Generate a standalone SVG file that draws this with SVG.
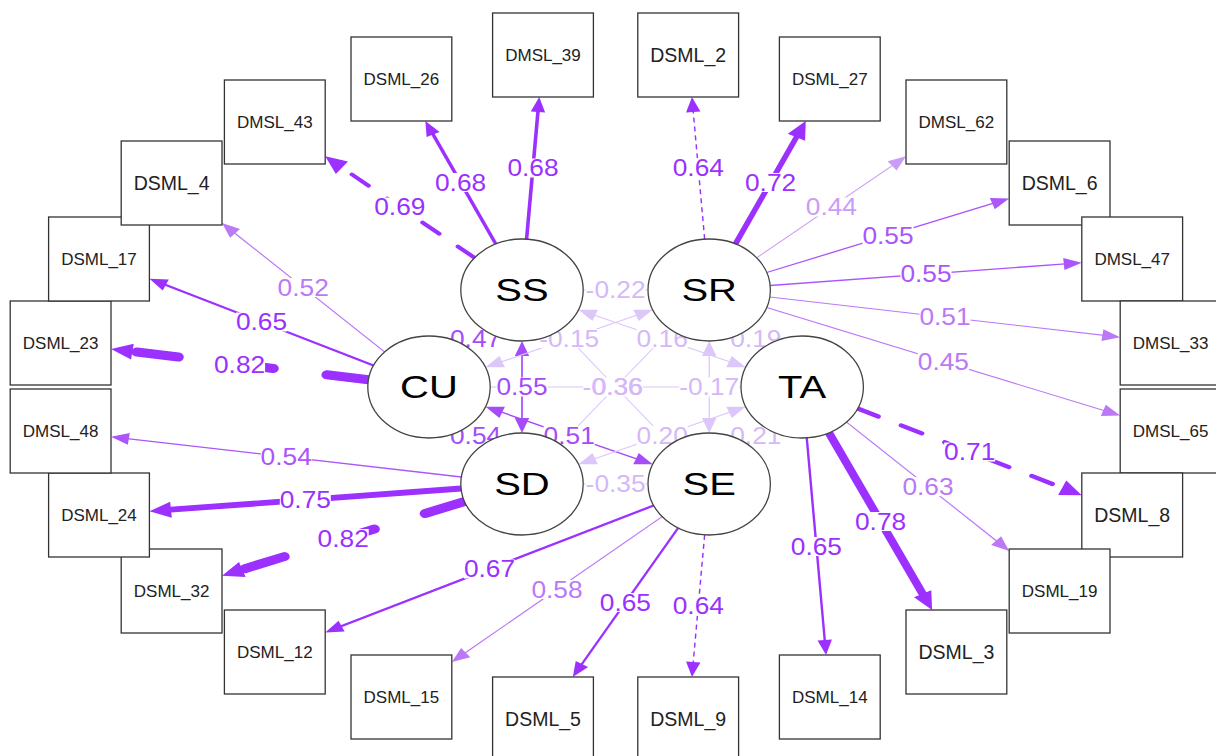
<svg xmlns="http://www.w3.org/2000/svg" width="1216" height="756" viewBox="0 0 1216 756">
  <style>
    .ln { fill: none; stroke-linecap: butt; }
    .k1 { stroke: #9B30FF; }
    .k2 { stroke: #AB55FA; }
    .k3 { stroke: #BB78F7; }
    .k4 { stroke: #CB9CF7; }
    .kc { stroke: #DCC6FA; stroke-width: 1; }
    .kd { stroke: #A54CF8; stroke-width: 1.4; }
    .dl { stroke-linecap: round; }
    .bg { fill: #ffffff; }
    .el { font-family: "Liberation Sans", Arial, sans-serif; font-size: 23.5px; text-anchor: middle;
          transform-box: fill-box; transform-origin: center; transform: scaleX(1.12); }
    .t1 { fill: #9B30FF; }
    .t2 { fill: #AB55FA; }
    .t3 { fill: #BB78F7; }
    .t4 { fill: #CB9CF7; }
    .tc { fill: #D5B8F8; }
    .td { fill: #A54CF8; }
    .box { fill: #ffffff; stroke: #333333; stroke-width: 1.3; }
    .lat { fill: #ffffff; stroke: #444444; stroke-width: 1.3; }
    .mt { font-family: "Liberation Sans", Arial, sans-serif; fill: #222222; text-anchor: middle; font-size: 17px; }
    .mt.big { font-size: 19.5px; }
    .lt { font-family: "Liberation Sans", Arial, sans-serif; fill: #000000; text-anchor: middle; font-size: 32px;
          transform-box: fill-box; transform-origin: center; transform: scaleX(1.25); }
  </style>
  <defs>
    <marker id="a1" markerUnits="userSpaceOnUse" orient="auto-start-reverse" refX="7" refY="0" markerWidth="1" markerHeight="1" overflow="visible"><path d="M0,-6 L15,0 L0,6 Z" fill="#9B30FF"/></marker>
    <marker id="ab" markerUnits="userSpaceOnUse" orient="auto-start-reverse" refX="6" refY="0" markerWidth="1" markerHeight="1" overflow="visible"><path d="M0,-8 L18,0 L0,8 Z" fill="#9B30FF"/></marker>
    <marker id="a2" markerUnits="userSpaceOnUse" orient="auto-start-reverse" refX="7" refY="0" markerWidth="1" markerHeight="1" overflow="visible"><path d="M0,-6 L15,0 L0,6 Z" fill="#AB55FA"/></marker>
    <marker id="a3" markerUnits="userSpaceOnUse" orient="auto-start-reverse" refX="7" refY="0" markerWidth="1" markerHeight="1" overflow="visible"><path d="M0,-6 L15,0 L0,6 Z" fill="#BB78F7"/></marker>
    <marker id="a4" markerUnits="userSpaceOnUse" orient="auto-start-reverse" refX="7" refY="0" markerWidth="1" markerHeight="1" overflow="visible"><path d="M0,-6 L15,0 L0,6 Z" fill="#CB9CF7"/></marker>
    <marker id="ac" markerUnits="userSpaceOnUse" orient="auto-start-reverse" refX="7" refY="0" markerWidth="1" markerHeight="1" overflow="visible"><path d="M0,-6 L15,0 L0,6 Z" fill="#DCC6FA"/></marker>
    <marker id="ad" markerUnits="userSpaceOnUse" orient="auto-start-reverse" refX="7" refY="0" markerWidth="1" markerHeight="1" overflow="visible"><path d="M0,-6 L15,0 L0,6 Z" fill="#A54CF8"/></marker>
  </defs>

  <rect x="0" y="0" width="1216" height="756" fill="#ffffff"/>

  <!-- edges are laid out on a square grid and stretched to the wide canvas -->
  <g id="connectors" transform="scale(1.2,1)">
    <g id="loadings">
      <path class="ln k1 dl" d="M395.5,257.8 L280.3,163.9" stroke-width="3.8" stroke-dasharray="18 20" marker-end="url(#ab)"/>
      <path class="ln k1" d="M413.1,243.9 L357.9,128.2" stroke-width="3" marker-end="url(#a1)"/>
      <path class="ln k1" d="M438.8,239.1 L448.8,105" stroke-width="3" marker-end="url(#a1)"/>
      <path class="ln k1" d="M587.2,239.1 L577.2,105" stroke-width="1.2" stroke-dasharray="5 4" marker-end="url(#a1)"/>
      <path class="ln k1" d="M612.9,243.9 L666.3,131.8" stroke-width="4.8" marker-end="url(#ab)"/>
      <path class="ln k4" d="M630.5,257.8 L748.8,161.4" stroke-width="1" marker-end="url(#a4)"/>
      <path class="ln k2" d="M638.9,272.5 L833.5,201.2" stroke-width="1.3" marker-end="url(#a2)"/>
      <path class="ln k2" d="M641.8,285.5 L893.5,263.4" stroke-width="1.3" marker-end="url(#a2)"/>
      <path class="ln k3" d="M641.5,297 L925.6,336.1" stroke-width="1.1" marker-end="url(#a3)"/>
      <path class="ln k3" d="M638.9,307.6 L926,412.8" stroke-width="1.1" marker-end="url(#a3)"/>
      <path class="ln k3" d="M320.5,351.9 L190.8,228.5" stroke-width="1.1" marker-end="url(#a3)"/>
      <path class="ln k1" d="M311.3,365.5 L131.8,282" stroke-width="2" marker-end="url(#a1)"/>
      <path class="ln k1 dl" d="M307,379.8 L104.4,350.7" stroke-width="9" stroke-dasharray="35 45" marker-end="url(#ab)"/>
      <path class="ln k2" d="M384.5,477 L100.4,437.9" stroke-width="1.3" marker-end="url(#a2)"/>
      <path class="ln k1" d="M384.2,488.5 L136.5,510.2" stroke-width="5.8" marker-end="url(#ab)"/>
      <path class="ln k1 dl" d="M387.1,501.5 L196.3,571.5" stroke-width="9" stroke-dasharray="35 45" marker-end="url(#ab)"/>
      <path class="ln k1" d="M544.7,505.5 L278.3,629.1" stroke-width="2.2" marker-end="url(#a1)"/>
      <path class="ln k3" d="M551.8,516.6 L382.7,657" stroke-width="1.1" marker-end="url(#a3)"/>
      <path class="ln k1" d="M565.1,527.9 L481.4,670.1" stroke-width="2" marker-end="url(#a1)"/>
      <path class="ln k1" d="M587.2,534.9 L577.2,669" stroke-width="1.2" stroke-dasharray="5 4" marker-end="url(#a1)"/>
      <path class="ln k1 dl" d="M714.7,408.5 L890.6,490.3" stroke-width="4.2" stroke-dasharray="19 21" marker-end="url(#ab)"/>
      <path class="ln k3" d="M705.5,422.1 L835.2,545.5" stroke-width="1.1" marker-end="url(#a3)"/>
      <path class="ln k1" d="M690.8,432.9 L771.5,599.2" stroke-width="7" marker-end="url(#ab)"/>
      <path class="ln k1" d="M672.3,437.9 L687.8,647" stroke-width="2" marker-end="url(#a1)"/>
    </g>
    <g id="covariances">
      <path class="ln kc" d="M494,290 L532,290" marker-start="url(#ac)" marker-end="url(#ac)"/>
      <path class="ln kd" d="M403.2,329.8 L389.3,347.2"/>
      <path class="ln kc" d="M489.5,312.7 L614,364.3" marker-start="url(#ac)" marker-end="url(#ac)"/>
      <path class="ln kd" d="M435,349 L435,425" marker-start="url(#ad)" marker-end="url(#ad)"/>
      <path class="ln kc" d="M467,329.7 L559,444.3"/>
      <path class="ln kc" d="M536.5,312.7 L412,364.3" marker-start="url(#ac)" marker-end="url(#ac)"/>
      <path class="ln kc" d="M622.8,329.8 L636.7,347.2"/>
      <path class="ln kc" d="M559,329.7 L467,444.3"/>
      <path class="ln kc" d="M591,349 L591,425" marker-start="url(#ac)" marker-end="url(#ac)"/>
      <path class="ln kc" d="M408.5,387 L617.5,387"/>
      <path class="ln kd" d="M389.3,426.8 L403.2,444.2"/>
      <path class="ln kd" d="M412,409.7 L536.5,461.3" marker-start="url(#ad)" marker-end="url(#ad)"/>
      <path class="ln kc" d="M614,409.7 L489.5,461.3" marker-start="url(#ac)" marker-end="url(#ac)"/>
      <path class="ln kc" d="M636.7,426.8 L622.8,444.2"/>
      <path class="ln kc" d="M494,484 L532,484" marker-start="url(#ac)" marker-end="url(#ac)"/>
    </g>
  </g>

  <!-- coefficient labels on white plates -->
  <g id="edge-labels">
    <rect class="bg" x="374.3" y="197.5" width="51" height="19"/><text class="el t1" x="399.8" y="215.4">0.69</text>
    <rect class="bg" x="435.1" y="173" width="51" height="19"/><text class="el t1" x="460.6" y="190.9">0.68</text>
    <rect class="bg" x="507.5" y="158.5" width="51" height="19"/><text class="el t1" x="533" y="176.4">0.68</text>
    <rect class="bg" x="672.8" y="158.5" width="51" height="19"/><text class="el t1" x="698.3" y="176.4">0.64</text>
    <rect class="bg" x="745.1" y="173" width="51" height="19"/><text class="el t1" x="770.6" y="190.9">0.72</text>
    <rect class="bg" x="805.9" y="197.5" width="51" height="19"/><text class="el t4" x="831.4" y="215.4">0.44</text>
    <rect class="bg" x="862.5" y="226" width="51" height="19"/><text class="el t2" x="888" y="243.9">0.55</text>
    <rect class="bg" x="900.5" y="264.5" width="51" height="19"/><text class="el t2" x="926" y="282.4">0.55</text>
    <rect class="bg" x="919.5" y="307.5" width="51" height="19"/><text class="el t3" x="945" y="325.4">0.51</text>
    <rect class="bg" x="917.9" y="352.1" width="51" height="19"/><text class="el t3" x="943.4" y="370">0.45</text>
    <rect class="bg" x="277.7" y="278" width="51" height="19"/><text class="el t3" x="303.2" y="295.9">0.52</text>
    <rect class="bg" x="236" y="312.5" width="51" height="19"/><text class="el t1" x="261.5" y="330.4">0.65</text>
    <rect class="bg" x="214.1" y="354.9" width="51" height="19"/><text class="el t1" x="239.6" y="372.8">0.82</text>
    <rect class="bg" x="260.7" y="447.5" width="51" height="19"/><text class="el t2" x="286.2" y="465.4">0.54</text>
    <rect class="bg" x="279.8" y="490.5" width="51" height="19"/><text class="el t1" x="305.3" y="508.4">0.75</text>
    <rect class="bg" x="317.7" y="529" width="51" height="19"/><text class="el t1" x="343.2" y="546.9">0.82</text>
    <rect class="bg" x="464" y="559.5" width="51" height="19"/><text class="el t1" x="489.5" y="577.4">0.67</text>
    <rect class="bg" x="531.5" y="579.9" width="51" height="19"/><text class="el t3" x="557" y="597.8">0.58</text>
    <rect class="bg" x="599.9" y="593" width="51" height="19"/><text class="el t1" x="625.4" y="610.9">0.65</text>
    <rect class="bg" x="672.8" y="596.5" width="51" height="19"/><text class="el t1" x="698.3" y="614.4">0.64</text>
    <rect class="bg" x="944.2" y="442.5" width="51" height="19"/><text class="el t1" x="969.7" y="460.4">0.71</text>
    <rect class="bg" x="902.5" y="477.1" width="51" height="19"/><text class="el t3" x="928" y="495">0.63</text>
    <rect class="bg" x="855.1" y="512" width="51" height="19"/><text class="el t1" x="880.6" y="529.9">0.78</text>
    <rect class="bg" x="790.9" y="537" width="51" height="19"/><text class="el t1" x="816.4" y="554.9">0.65</text>

    <rect class="bg" x="585.6" y="280.5" width="60" height="19"/><text class="el tc" x="615.6" y="298.4">-0.22</text>
    <rect class="bg" x="450.1" y="329" width="51" height="19"/><text class="el td" x="475.6" y="346.9">0.47</text>
    <rect class="bg" x="539.2" y="329" width="60" height="19"/><text class="el tc" x="569.2" y="346.9">-0.15</text>
    <rect class="bg" x="636.7" y="329" width="51" height="19"/><text class="el tc" x="662.2" y="346.9">0.16</text>
    <rect class="bg" x="730.3" y="329" width="51" height="19"/><text class="el tc" x="755.8" y="346.9">0.19</text>
    <rect class="bg" x="496.5" y="377.5" width="51" height="19"/><text class="el td" x="522" y="395.4">0.55</text>
    <rect class="bg" x="583" y="377.5" width="60" height="19"/>
    <text class="el tc" x="612.5" y="395.4">-0.36</text>
    <text class="el tc" x="617.5" y="395.4">0.36</text>
    <rect class="bg" x="679.2" y="377.5" width="60" height="19"/><text class="el tc" x="709.2" y="395.4">-0.17</text>
    <rect class="bg" x="450.1" y="426" width="51" height="19"/><text class="el td" x="475.6" y="443.9">0.54</text>
    <rect class="bg" x="543.7" y="426" width="51" height="19"/><text class="el td" x="569.2" y="443.9">0.51</text>
    <rect class="bg" x="636.7" y="426" width="51" height="19"/><text class="el tc" x="662.2" y="443.9">0.20</text>
    <rect class="bg" x="730.3" y="426" width="51" height="19"/><text class="el tc" x="755.8" y="443.9">0.21</text>
    <rect class="bg" x="585.6" y="474.5" width="60" height="19"/><text class="el tc" x="615.6" y="492.4">-0.35</text>
  </g>

  <!-- observed indicators, drawn clockwise from the top -->
  <g id="nodes">
    <g id="DSML_2"><rect class="box" x="637.8" y="13" width="100.8" height="84"/><text class="mt big" x="688.2" y="62">DSML_2</text></g>
    <g id="DSML_27"><rect class="box" x="779.4" y="37" width="100.8" height="84"/><text class="mt" x="829.8" y="85.1">DSML_27</text></g>
    <g id="DMSL_62"><rect class="box" x="906" y="80" width="100.8" height="84"/><text class="mt" x="956.4" y="128.1">DMSL_62</text></g>
    <g id="DSML_6"><rect class="box" x="1009.2" y="141" width="100.8" height="84"/><text class="mt big" x="1059.6" y="190">DSML_6</text></g>
    <g id="DMSL_47"><rect class="box" x="1081.8" y="217" width="100.8" height="84"/><text class="mt" x="1132.2" y="265.1">DMSL_47</text></g>
    <g id="DMSL_33"><rect class="box" x="1120.2" y="301" width="100.8" height="84"/><text class="mt" x="1170.6" y="349.1">DMSL_33</text></g>
    <g id="DMSL_65"><rect class="box" x="1120.2" y="389" width="100.8" height="84"/><text class="mt" x="1170.6" y="437.1">DMSL_65</text></g>
    <g id="DSML_8"><rect class="box" x="1081.8" y="473" width="100.8" height="84"/><text class="mt big" x="1132.2" y="522">DSML_8</text></g>
    <g id="DSML_19"><rect class="box" x="1009.2" y="549" width="100.8" height="84"/><text class="mt" x="1059.6" y="597.1">DSML_19</text></g>
    <g id="DSML_3"><rect class="box" x="906" y="610" width="100.8" height="84"/><text class="mt big" x="956.4" y="659">DSML_3</text></g>
    <g id="DSML_14"><rect class="box" x="779.4" y="655" width="100.8" height="84"/><text class="mt" x="829.8" y="703.1">DSML_14</text></g>
    <g id="DSML_9"><rect class="box" x="637.8" y="677" width="100.8" height="84"/><text class="mt big" x="688.2" y="726">DSML_9</text></g>
    <g id="DSML_5"><rect class="box" x="492.6" y="677" width="100.8" height="84"/><text class="mt big" x="543" y="726">DSML_5</text></g>
    <g id="DSML_15"><rect class="box" x="351" y="655" width="100.8" height="84"/><text class="mt" x="401.4" y="703.1">DSML_15</text></g>
    <g id="DSML_12"><rect class="box" x="224.4" y="610" width="100.8" height="84"/><text class="mt" x="274.8" y="658.1">DSML_12</text></g>
    <g id="DSML_32"><rect class="box" x="121.2" y="549" width="100.8" height="84"/><text class="mt" x="171.6" y="597.1">DSML_32</text></g>
    <g id="DSML_24"><rect class="box" x="48.6" y="473" width="100.8" height="84"/><text class="mt" x="99" y="521.1">DSML_24</text></g>
    <g id="DMSL_48"><rect class="box" x="10.2" y="389" width="100.8" height="84"/><text class="mt" x="60.6" y="437.1">DMSL_48</text></g>
    <g id="DSML_23"><rect class="box" x="10.2" y="301" width="100.8" height="84"/><text class="mt" x="60.6" y="349.1">DSML_23</text></g>
    <g id="DSML_17"><rect class="box" x="48.6" y="217" width="100.8" height="84"/><text class="mt" x="99" y="265.1">DSML_17</text></g>
    <g id="DSML_4"><rect class="box" x="121.2" y="141" width="100.8" height="84"/><text class="mt big" x="171.6" y="190">DSML_4</text></g>
    <g id="DMSL_43"><rect class="box" x="224.4" y="80" width="100.8" height="84"/><text class="mt" x="274.8" y="128.1">DMSL_43</text></g>
    <g id="DSML_26"><rect class="box" x="351" y="37" width="100.8" height="84"/><text class="mt" x="401.4" y="85.1">DSML_26</text></g>
    <g id="DMSL_39"><rect class="box" x="492.6" y="13" width="100.8" height="84"/><text class="mt" x="543" y="61.1">DMSL_39</text></g>

    <!-- latent factors -->
    <g id="SS"><ellipse class="lat" cx="522" cy="290" rx="61.2" ry="51"/><text class="lt" x="522" y="301.5">SS</text></g>
    <g id="SR"><ellipse class="lat" cx="709.2" cy="290" rx="61.2" ry="51"/><text class="lt" x="709.2" y="301.5">SR</text></g>
    <g id="CU"><ellipse class="lat" cx="429" cy="387" rx="61.2" ry="51"/><text class="lt" x="429" y="398.5">CU</text></g>
    <g id="TA"><ellipse class="lat" cx="802.2" cy="387" rx="61.2" ry="51"/><text class="lt" x="802.2" y="398.5">TA</text></g>
    <g id="SD"><ellipse class="lat" cx="522" cy="484" rx="61.2" ry="51"/><text class="lt" x="522" y="495.5">SD</text></g>
    <g id="SE"><ellipse class="lat" cx="709.2" cy="484" rx="61.2" ry="51"/><text class="lt" x="709.2" y="495.5">SE</text></g>
  </g>
</svg>
